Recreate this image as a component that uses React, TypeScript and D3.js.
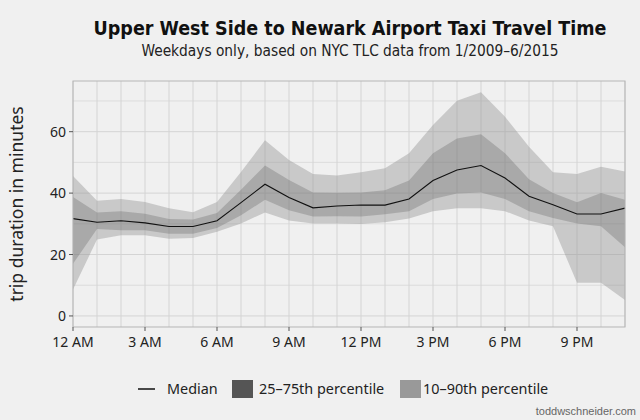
import React from "react";
import * as d3 from "d3";

// hour of day, 0 = 12 AM
const hours = d3.range(0, 24);
const median = [31.7, 30.5, 31.0, 30.3, 29.1, 29.1, 31.0, 36.9, 42.9, 38.6, 35.2, 35.8, 36.1, 36.1, 38.1, 44.1, 47.5, 49.0, 44.9, 39.0, 36.2, 33.2, 33.2, 35.1];
const p25 = [17.0, 28.3, 27.9, 27.9, 26.8, 26.8, 28.6, 32.8, 37.8, 34.4, 32.4, 32.5, 32.4, 33.1, 34.1, 38.1, 39.9, 40.2, 38.1, 34.1, 31.9, 30.1, 29.2, 22.4];
const p75 = [38.7, 33.7, 34.1, 33.3, 31.6, 31.4, 33.5, 41.1, 49.0, 44.3, 40.2, 40.1, 40.2, 40.9, 44.1, 53.0, 57.8, 59.2, 53.0, 44.5, 40.0, 37.0, 40.0, 37.8];
const p10 = [8.6, 24.9, 26.3, 26.3, 25.1, 25.4, 27.4, 30.1, 33.7, 31.1, 30.1, 30.1, 29.9, 30.5, 31.7, 34.1, 35.1, 35.1, 34.1, 31.1, 29.2, 10.8, 10.8, 5.2];
const p90 = [45.6, 37.5, 38.1, 37.1, 35.1, 33.8, 37.1, 46.9, 57.2, 50.8, 46.2, 45.7, 46.8, 48.1, 53.0, 62.2, 70.1, 72.8, 64.9, 55.1, 46.8, 46.2, 48.6, 47.0];
const xTickHours = [0, 3, 6, 9, 12, 15, 18, 21];
const xTickLabels = ["12 AM", "3 AM", "6 AM", "9 AM", "12 PM", "3 PM", "6 PM", "9 PM"];
const yTicks = [0, 20, 40, 60];
const yMinor = [10, 30, 50, 70];

const W = 640;
const H = 420;
const m = { left: 73, right: 15, top: 81, bottom: 93 };

export default function App() {
  const x = d3.scaleLinear().domain([0, 23]).range([m.left, W - m.right]);
  const y = d3.scaleLinear().domain([-3.6, 76.5]).range([H - m.bottom, m.top]);

  const band = (lo: number[], hi: number[]) =>
    d3
      .area<number>()
      .x((h) => x(h))
      .y0((h) => y(lo[h]))
      .y1((h) => y(hi[h]))(hours) as string;

  const line = d3
    .line<number>()
    .x((h) => x(h))
    .y((h) => y(median[h]))(hours) as string;

  const font = "'Noto Sans', 'Open Sans', sans-serif";
  const narrow = "'DejaVu Sans Condensed', 'Liberation Sans Narrow', 'Roboto', sans-serif";

  return (
    <svg width={W} height={H} style={{ position: "absolute", left: 0, top: 0, background: "#f0f0f0" }}>
      <rect width={W} height={H} fill="#f0f0f0" />
      <text x={350} y={35} textAnchor="middle" fontFamily={narrow} fontStretch="condensed" fontWeight="bold" fontSize={19.5} fill="#111">
        Upper West Side to Newark Airport Taxi Travel Time
      </text>
      <text x={350} y={56} textAnchor="middle" fontFamily={narrow} fontStretch="condensed" fontSize={15.3} fill="#222">
        Weekdays only, based on NYC TLC data from 1/2009–6/2015
      </text>

      {/* grid */}
      {yMinor.map((v) => (
        <line key={"ym" + v} x1={m.left} x2={W - m.right} y1={y(v)} y2={y(v)} stroke="#dcdcdc" strokeWidth={1} />
      ))}
      {yTicks.map((v) => (
        <line key={"yg" + v} x1={m.left} x2={W - m.right} y1={y(v)} y2={y(v)} stroke="#d4d4d4" strokeWidth={1} />
      ))}
      {hours.map((h) => (
        <line key={"xg" + h} x1={x(h)} x2={x(h)} y1={m.top} y2={H - m.bottom} stroke="#d4d4d4" strokeWidth={1} />
      ))}

      {/* ribbons */}
      <path d={band(p10, p90)} fill="#999999" fillOpacity={0.45} />
      <path d={band(p25, p75)} fill="#555555" fillOpacity={0.28} />
      <path d={line} fill="none" stroke="#111" strokeWidth={1.1} />

      <rect x={m.left} y={m.top} width={W - m.left - m.right} height={H - m.top - m.bottom} fill="none" stroke="#b5b5b5" strokeWidth={1} />

      {/* y axis */}
      {yTicks.map((v) => (
        <g key={"yt" + v}>
          <line x1={m.left - 4} x2={m.left} y1={y(v)} y2={y(v)} stroke="#555" />
          <text x={m.left - 7} y={y(v)} dy="0.36em" textAnchor="end" fontFamily={font} fontSize={14} fill="#222">
            {v}
          </text>
        </g>
      ))}
      {/* x axis */}
      {xTickHours.map((h, i) => (
        <g key={"xt" + h}>
          <line x1={x(h)} x2={x(h)} y1={H - m.bottom} y2={H - m.bottom + 4} stroke="#555" />
          <text x={x(h)} y={H - m.bottom + 20} textAnchor="middle" fontFamily={font} fontSize={14} fill="#222">
            {xTickLabels[i]}
          </text>
        </g>
      ))}
      <text transform={`translate(23,${(m.top + H - m.bottom) / 2}) rotate(-90)`} textAnchor="middle" fontFamily={font} fontSize={17.5} fill="#222">
        trip duration in minutes
      </text>

      {/* legend */}
      <line x1={138} x2={155} y1={389} y2={389} stroke="#111" strokeWidth={1.5} />
      <text x={167} y={394} fontFamily={font} fontSize={14.4} fill="#222">Median</text>
      <rect x={232} y={380} width={21} height={18} fill="#555555" />
      <text x={259} y={394} fontFamily={font} fontSize={14.4} fill="#222">25–75th percentile</text>
      <rect x={400} y={380} width={21} height={18} fill="#999999" />
      <text x={423} y={394} fontFamily={font} fontSize={14.4} fill="#222">10–90th percentile</text>

      <text x={636} y={415} textAnchor="end" fontFamily="'Liberation Sans', Arial, sans-serif" fontSize={11} fill="#666">
        toddwschneider.com
      </text>
    </svg>
  );
}
